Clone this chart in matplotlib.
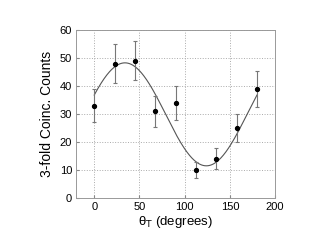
import numpy as np
import matplotlib
matplotlib.use("Agg")
import matplotlib.pyplot as plt

plt.rcParams['font.family'] = ['Liberation Sans', 'DejaVu Sans']

theta = [0, 22.5, 45, 67.5, 90, 112.5, 135, 157.5, 180]
counts = [33, 48, 49, 31, 34, 10, 14, 25, 39]
errors = [6, 7, 7, 5.5, 6, 3, 3.7, 5, 6.5]

# fit parameters: offset + amplitude*cos(2*(theta - phase))
fit_offset = 29.9
fit_amp = 18.4
fit_phase = 34.0

fig = plt.figure(figsize=(3.24, 2.48), dpi=100)
ax = fig.add_axes([0.235, 0.2016, 0.614, 0.677])

tt = np.linspace(0, 180, 300)
ax.plot(tt, fit_offset + fit_amp * np.cos(np.radians(2 * (tt - fit_phase))),
        color='#555555', lw=0.8, zorder=2)
ax.errorbar(theta, counts, yerr=errors, fmt='o', ms=2.8, color='black',
            ecolor='#777777', elinewidth=0.8, capsize=1.5, capthick=0.8, zorder=3)

ax.set_xlim(-20, 200)
ax.set_ylim(0, 60)
ax.set_xticks([0, 50, 100, 150, 200])
ax.set_yticks(range(0, 61, 10))
ax.grid(True, linestyle=':', color='#aaaaaa', lw=0.7)
ax.tick_params(direction='in', length=2, labelsize=8, colors='#888888', labelcolor='black', pad=3)
for s in ax.spines.values():
    s.set_color('#999999')
    s.set_linewidth(0.7)
ax.set_xlabel('θ$_\\mathrm{T}$ (degrees)', fontsize=9.5, labelpad=1)
ax.set_ylabel('3-fold Coinc. Counts', fontsize=10, labelpad=4)

fig.savefig('out.png', dpi=100)
